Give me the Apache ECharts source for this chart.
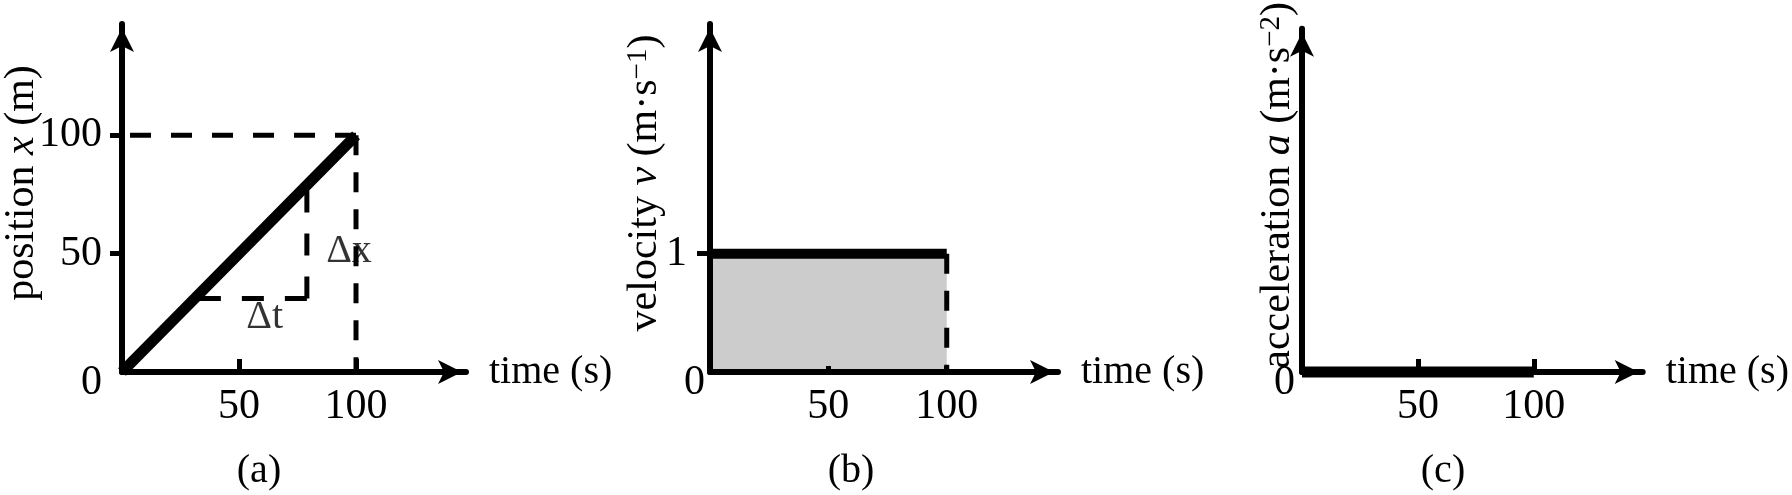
<!DOCTYPE html>
<html><head><meta charset="utf-8">
<script src="https://cdn.jsdelivr.net/npm/echarts@6/dist/echarts.min.js"></script>
<style>html,body{margin:0;padding:0;background:#fff}#c{width:1792px;height:495px}</style>
</head><body><div id="c"></div>
<script>
// ---- data ----
const timeTicks = [50, 100];
const positionTicks = [50, 100];
const positionLabels = [0, 50, 100];
const velocityTicks = [1];
const velocityLabels = [0, 1];
const accelLabels = [0];
const positionLine = [[0, 0], [100, 100]];
const positionGuideH = [[100, 100], [0, 100]];
const positionGuideV = [[100, 100], [100, 0]];
const slopeGuideH = [[79, 31], [31, 31]];
const slopeGuideV = [[79, 31], [79, 79]];
const slopeLabels = [{ name: 'Δt', value: [61, 23] }, { name: 'Δx', value: [97, 51] }];
const velocityLine = [[0, 1], [100, 1]];
const velocityGuideV = [[100, 1], [100, 0]];
const accelLine = [[0, 0], [100, 0]];
const captions = ['(a)', '(b)', '(c)'];
const yNames = [
  '{t|position }{i|x}{t| (m)}',
  '{t|velocity }{i|v}{t| (m·s}{s|−1}{t|)}',
  '{t|acceleration }{i|a}{t| (m·s}{s|−2}{t|)}'
];

// ---- styling ----
const FF = "'Liberation Serif', 'Times New Roman', serif";
const lefts = [118, 710, 1302];
const nameRich = {
  t: { fontFamily: FF, fontSize: 42, color: '#000', lineHeight: 42, verticalAlign: 'bottom' },
  i: { fontFamily: FF, fontSize: 42, fontStyle: 'italic', color: '#000', lineHeight: 42, verticalAlign: 'bottom' },
  s: { fontFamily: FF, fontSize: 29, color: '#000', lineHeight: 29, verticalAlign: 'top', padding: [0, 0, 18, 0] }
};
const labelRich = {
  n: { fontFamily: FF, fontSize: 42, color: '#000', lineHeight: 42 },
  z: { fontFamily: FF, fontSize: 42, color: '#000', lineHeight: 42, padding: [22, 0, 0, 0] },
  p: { fontFamily: FF, fontSize: 42, color: '#000', lineHeight: 42, padding: [0, 18, 0, 0] }
};
const axisLine = {
  show: true, onZero: false,
  symbol: ['none', 'arrow'], symbolSize: [18, 24], symbolOffset: [0, -4],
  lineStyle: { color: '#000', width: 6 }
};

function xAxis(i, tickLen) {
  return {
    type: 'value', gridIndex: i, min: 0, max: 147, z: i === 1 ? 3 : 0,
    axisLine: axisLine,
    axisTick: { show: true, customValues: timeTicks, inside: true, length: tickLen, lineStyle: { color: '#000', width: 5 } },
    axisLabel: { show: true, customValues: timeTicks, margin: 14, color: '#000', fontFamily: FF, fontSize: 42 },
    splitLine: { show: false },
    name: 'time (s)', nameLocation: 'end', nameGap: 23, nameMoveOverlap: false,
    nameTextStyle: { fontFamily: FF, fontSize: 40, color: '#000', verticalAlign: 'middle', align: 'left' }
  };
}
function yAxis(i, max, ticks, labels, tickLen, margin, gap, shift) {
  return {
    type: 'value', gridIndex: i, min: 0, max: max, z: i === 1 ? 3 : 0,
    axisLine: axisLine,
    axisTick: { show: ticks.length > 0, customValues: ticks, length: tickLen, lineStyle: { color: '#000', width: 5 } },
    axisLabel: {
      show: true, customValues: labels, margin: margin, rich: labelRich,
      formatter: v => v === 0 ? '{z|0}' : (i === 1 ? '{p|' + v + '}' : '{n|' + v + '}')
    },
    splitLine: { show: false },
    name: yNames[i], nameLocation: 'middle', nameGap: gap, nameRotate: 90, nameMoveOverlap: false,
    nameTextStyle: { rich: nameRich, padding: [0, 0, 0, shift] }
  };
}

const dashed = (data, xi, dash) => ({
  type: 'line', data: data, xAxisIndex: xi, yAxisIndex: xi, symbol: 'none', clip: false, z: 4,
  lineStyle: { color: '#000', width: 5, type: dash }, silent: true
});

const option = {
  animation: false,
  backgroundColor: '#fff',
  grid: lefts.map(l => ({ left: l, top: 24, width: 348, height: 348 })),
  xAxis: [xAxis(0, 13), xAxis(1, 6), xAxis(2, 13)],
  yAxis: [
    yAxis(0, 147, positionTicks, positionLabels, 11, 20, 79, 30),
    yAxis(1, 2.94, velocityTicks, velocityLabels, 13, 5, 44, 30),
    yAxis(2, 1, [], accelLabels, 0, 7, 3, 30),
    {
      type: 'value', gridIndex: 0, min: 0, max: 147,
      axisLine: { show: false },
      axisTick: { show: true, inside: true, customValues: positionTicks, length: 12, lineStyle: { color: '#000', width: 5 } },
      axisLabel: { show: false }, splitLine: { show: false }
    }
  ],
  series: [
    { type: 'line', data: positionLine, xAxisIndex: 0, yAxisIndex: 0, symbol: 'none', clip: false, z: 5,
      lineStyle: { color: '#000', width: 11 } },
    dashed(positionGuideH, 0, [21, 20]),
    dashed(positionGuideV, 0, [20, 17]),
    dashed(slopeGuideH, 0, [22, 21]),
    dashed(slopeGuideV, 0, [22, 21]),
    { type: 'scatter', data: slopeLabels, xAxisIndex: 0, yAxisIndex: 0, symbolSize: 0, z: 6,
      label: { show: true, position: 'inside', formatter: '{b}', color: '#000', fontFamily: FF, fontSize: 40 } },
    { type: 'line', data: velocityLine, xAxisIndex: 1, yAxisIndex: 1, symbol: 'none', clip: false, z: 2,
      lineStyle: { color: '#000', width: 10 }, areaStyle: { color: '#cccccc', opacity: 1 } },
    dashed(velocityGuideV, 1, [20, 17]),
    { type: 'line', data: accelLine, xAxisIndex: 2, yAxisIndex: 2, symbol: 'none', clip: false, z: 5,
      lineStyle: { color: '#000', width: 11 } }
  ],
  graphic: captions.map((c, i) => ({
    type: 'text', x: lefts[i] + 141, y: 471, z: 10,
    style: { text: c, fontFamily: FF, fontSize: 40, fill: '#000', align: 'center', verticalAlign: 'middle' }
  }))
};

const chart = echarts.init(document.getElementById('c'), null, { renderer: 'canvas' });
chart.setOption(option);
</script>
</body></html>
